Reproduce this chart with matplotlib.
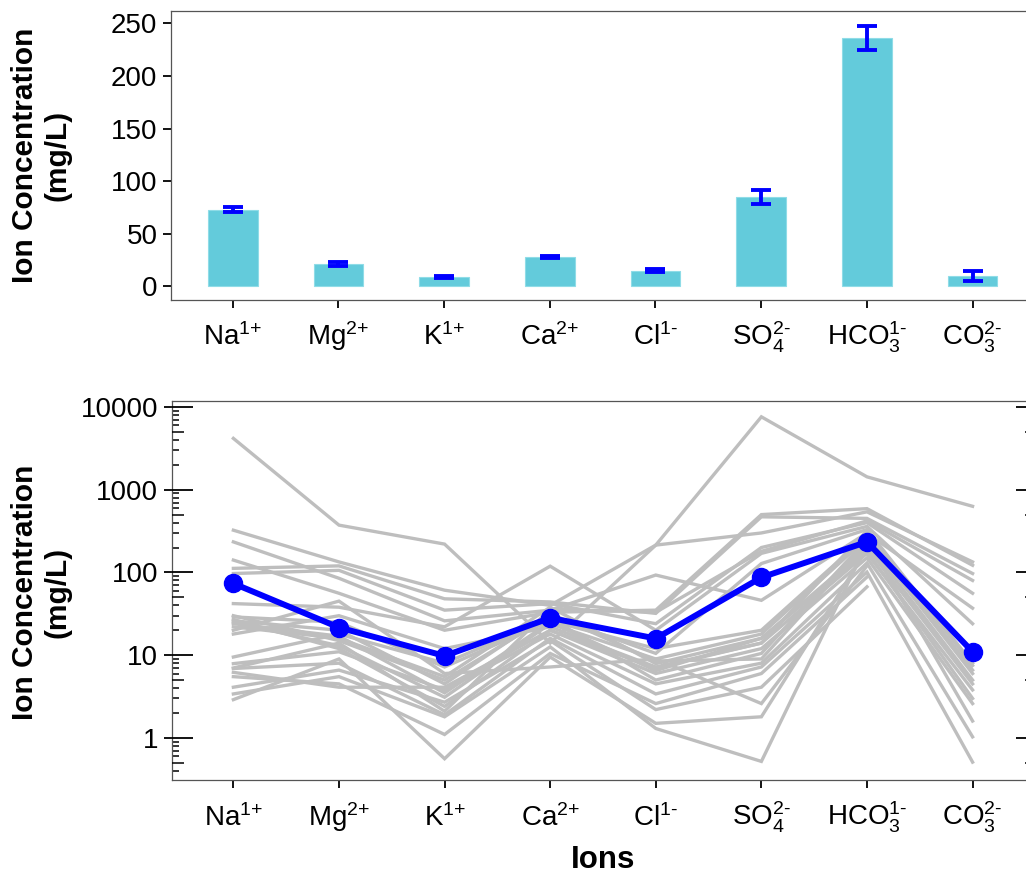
import numpy as np
import matplotlib
matplotlib.use("Agg")
import matplotlib.pyplot as plt
from matplotlib.ticker import FixedLocator, NullFormatter, LogLocator

plt.rcParams['font.family'] = ['Liberation Sans', 'DejaVu Sans']
plt.rcParams['mathtext.fontset'] = 'custom'
plt.rcParams['mathtext.rm'] = 'Liberation Sans'
plt.rcParams['mathtext.it'] = 'Liberation Sans:italic'
plt.rcParams['mathtext.bf'] = 'Liberation Sans:bold'

ions = [r'Na$^{\text{1+}}$', r'Mg$^{\text{2+}}$', r'K$^{\text{1+}}$', r'Ca$^{\text{2+}}$',
        r'Cl$^{\text{1-}}$', r'SO$_{\text{4}}^{\text{2-}}$', r'HCO$_{\text{3}}^{\text{1-}}$',
        r'CO$_{\text{3}}^{\text{2-}}$']

# mean concentration (mg/L) and standard error
mean_conc = [73, 21, 9, 28, 15, 85, 236, 10]
se_conc = [2.5, 1.8, 0.8, 1.2, 1.3, 6.5, 11, 5]

# mean profile on log panel
mean_line = [73.6, 21.6, 9.8, 28.2, 15.9, 87, 234, 11.0]

# individual samples, one list per ion (index = sample)
na = [4170, 324, 234, 141, 112, 97, 42, 30, 29, 25, 22, 18, 27, 9.5, 7.9, 6.9, 5.5, 4.1, 3.4, 2.9, 20, 6.2,
      26, 24, 7]
mg = [373, 134, 85, 56, 120, 106, 38, 15, 25, 13, 16, 30, 12, 18, 11, 8, 4.5, 6.6, 5.5, 9, 45, 4.1,
      20, 17, 14]
k = [220, 61, 26, 20, 48, 35, 22, 5, 7.2, 3.1, 5.5, 12, 2.4, 8, 3.8, 1.9, 1.1, 2.7, 1.8, 0.56, 6, 4.1,
     4.5, 3.5, 2.1]
ca = [14, 40, 35, 33, 44, 42, 119, 30, 26, 24, 38, 22, 20, 28, 18, 16, 10.5, 15, 12.6, 9.5, 7.2, 20,
      32, 25, 36]
cl = [214, 214, 93, 35, 32, 24, 20, 10.5, 12, 9, 7.9, 7.2, 6, 5, 4.5, 3.4, 2.6, 2.2, 1.3, 1.5, 9, 7,
      8.5, 6.5, 33]
so4 = [7600, 300, 46, 500, 470, 200, 170, 128, 20, 18, 16, 14, 12, 10.5, 8, 7.2, 6, 4.1, 0.52, 1.8, 2.6, 14,
       9, 16, 180]
hco3 = [1430, 540, 300, 590, 450, 400, 360, 330, 280, 260, 200, 170, 150, 250, 130, 101, 88, 67, 220, 190, 120, 320,
        230, 180, 420]
co3 = [630, 134, 37, 122, 97, 56, 24, 8, 6.6, 6.0, 4.5, 3.8, 2.6, 1.6, 1.03, 0.51,
       np.nan, np.nan, np.nan, np.nan, np.nan, 7.5, 5, 3, 80]

bar_color = '#63CBDB'
err_color = '#0000FF'
grey = '#BEBEBE'
spine_color = '#555555'

fig = plt.figure(figsize=(10.26, 8.74), dpi=100)
W, H = 1026, 874

def axes_px(l, t, r, b):
    return fig.add_axes([l / W, 1 - b / H, (r - l) / W, (b - t) / H])

x = np.arange(len(ions))
xlim = (-0.584, 7.61)

# ---- top: bar chart ----
ax1 = axes_px(171, 10.7, 1037, 299.7)
ax1.bar(x, mean_conc, width=0.47, color=bar_color, edgecolor='#8FDCE7', linewidth=0.8, zorder=2)
ax1.errorbar(x, mean_conc, yerr=se_conc, fmt='none', ecolor=err_color,
             elinewidth=2.8, capsize=7.4, capthick=2.8, zorder=3)
ax1.set_xlim(xlim)
ax1.set_ylim(-12.7, 262)
ax1.set_yticks([0, 50, 100, 150, 200, 250])
ax1.set_xticks(x)
ax1.set_xticklabels(ions)

# ---- bottom: log profile ----
ax2 = axes_px(171.7, 400.7, 1037, 780)
for i in range(len(na)):
    ax2.plot(x, [na[i], mg[i], k[i], ca[i], cl[i], so4[i], hco3[i], co3[i]],
             color=grey, lw=2.4, solid_joinstyle='miter', zorder=1)
ax2.plot(x, mean_line, color=err_color, lw=4.3, marker='o', markersize=13, zorder=3)
ax2.set_yscale('log')
ax2.set_xlim(xlim)
ax2.set_ylim(0.31, 11900)
ax2.yaxis.set_major_locator(FixedLocator([1, 10, 100, 1000, 10000]))
ax2.set_yticklabels(['1', '10', '100', '1000', '10000'])
ax2.yaxis.set_minor_locator(LogLocator(base=10, subs=(2, 3, 4, 6, 7, 8, 9), numticks=20))
ax2.yaxis.set_minor_formatter(NullFormatter())
ax2.set_xticks(x)
ax2.set_xticklabels(ions)

for ax in (ax1, ax2):
    for s in ax.spines.values():
        s.set_color(spine_color)
        s.set_linewidth(0.9)
    ax.tick_params(axis='both', which='major', direction='out', length=5.8, width=1.3,
                   color='black', labelsize=20, pad=4)
    ax.tick_params(axis='x', pad=27)
    for lbl in ax.get_xticklabels():
        lbl.set_verticalalignment('baseline')
ax2.tick_params(axis='y', which='minor', direction='in', length=4.7, width=1.1, color='black')

# inward ticks on both sides of the log panel
tw = ax2.twinx()
tw.set_yscale('log')
tw.set_ylim(ax2.get_ylim())
tw.yaxis.set_major_locator(FixedLocator([1, 10, 100, 1000, 10000]))
tw.yaxis.set_minor_locator(FixedLocator([0.5, 5, 50, 500, 5000]))
tw.yaxis.set_major_formatter(NullFormatter())
tw.yaxis.set_minor_formatter(NullFormatter())
tw.tick_params(axis='y', which='major', left=True, right=True, direction='in',
               length=14.8, width=1.3, color='black', labelleft=False, labelright=False)
tw.tick_params(axis='y', which='minor', left=True, right=True, direction='in',
               length=8.6, width=1.1, color='black', labelleft=False, labelright=False)
for s in tw.spines.values():
    s.set_visible(False)

# axis titles
ylab = 'Ion Concentration\n(mg/L)'
fig.text(41 / W, 1 - 155 / H, ylab, rotation=90, ha='center', va='center',
         multialignment='center', fontsize=21.5, fontweight='bold')
fig.text(41 / W, 1 - 592 / H, ylab, rotation=90, ha='center', va='center',
         multialignment='center', fontsize=21.5, fontweight='bold')
fig.text(603 / W, 1 - 868 / H, 'Ions', ha='center', va='baseline',
         fontsize=22.5, fontweight='bold')

fig.savefig('out.png', dpi=100)
